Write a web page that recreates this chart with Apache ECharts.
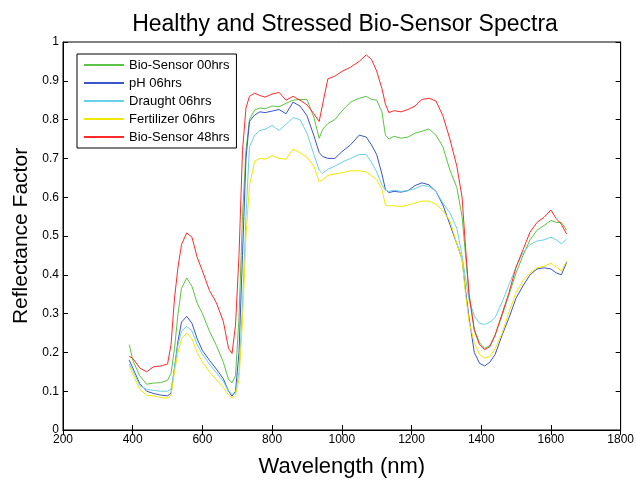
<!DOCTYPE html>
<html><head><meta charset="utf-8">
<script src="https://cdn.jsdelivr.net/npm/echarts@6/dist/echarts.min.js"></script>
<style>html,body{margin:0;padding:0;background:#fff}#c{width:637px;height:483px}</style>
</head><body><div id="c"></div>
<script>
const wavelengths = [390,400,420,440,460,480,500,510,520,530,540,555,570,585,600,620,640,660,675,685,695,705,715,725,735,750,765,780,800,820,840,860,880,900,920,935,945,960,980,1000,1025,1050,1070,1085,1100,1115,1125,1135,1150,1170,1190,1210,1230,1250,1270,1290,1310,1330,1345,1355,1365,1380,1395,1410,1425,1440,1460,1480,1500,1520,1540,1560,1580,1600,1615,1630,1645];

const bio00 = [0.22,0.18,0.14,0.118,0.121,0.122,0.128,0.146,0.21,0.3,0.365,0.392,0.37,0.327,0.3,0.255,0.218,0.175,0.13,0.122,0.14,0.29,0.55,0.72,0.8,0.825,0.83,0.828,0.835,0.833,0.842,0.85,0.852,0.852,0.805,0.752,0.775,0.79,0.8,0.822,0.845,0.855,0.86,0.852,0.85,0.82,0.76,0.75,0.757,0.752,0.755,0.765,0.77,0.776,0.76,0.73,0.67,0.625,0.55,0.45,0.35,0.26,0.225,0.21,0.218,0.245,0.295,0.35,0.405,0.45,0.49,0.515,0.527,0.54,0.535,0.535,0.515];

const ph06 = [0.18,0.16,0.12,0.1,0.094,0.09,0.088,0.095,0.16,0.23,0.278,0.293,0.275,0.235,0.205,0.18,0.157,0.132,0.1,0.087,0.1,0.2,0.45,0.7,0.795,0.812,0.82,0.818,0.822,0.826,0.815,0.845,0.835,0.81,0.758,0.715,0.705,0.7,0.7,0.717,0.735,0.76,0.755,0.735,0.71,0.66,0.62,0.612,0.615,0.613,0.617,0.63,0.637,0.632,0.615,0.58,0.53,0.48,0.44,0.36,0.29,0.2,0.172,0.165,0.175,0.195,0.245,0.29,0.34,0.372,0.4,0.415,0.418,0.415,0.405,0.4,0.432];

const draught06 = [0.17,0.155,0.115,0.105,0.102,0.1,0.1,0.105,0.16,0.22,0.255,0.267,0.255,0.22,0.195,0.17,0.148,0.125,0.1,0.092,0.095,0.15,0.32,0.55,0.73,0.76,0.772,0.775,0.785,0.772,0.788,0.805,0.8,0.765,0.71,0.67,0.662,0.672,0.68,0.69,0.7,0.71,0.71,0.69,0.665,0.632,0.618,0.615,0.618,0.615,0.617,0.622,0.63,0.628,0.615,0.585,0.56,0.52,0.45,0.39,0.335,0.295,0.275,0.272,0.278,0.29,0.33,0.375,0.42,0.458,0.478,0.487,0.49,0.497,0.49,0.48,0.492];

const fert06 = [0.165,0.145,0.105,0.09,0.088,0.084,0.082,0.09,0.15,0.2,0.235,0.25,0.235,0.2,0.175,0.15,0.13,0.11,0.09,0.082,0.09,0.13,0.28,0.5,0.63,0.693,0.7,0.698,0.707,0.7,0.698,0.724,0.715,0.703,0.68,0.64,0.645,0.656,0.66,0.663,0.668,0.668,0.665,0.655,0.645,0.62,0.58,0.578,0.578,0.576,0.58,0.585,0.59,0.59,0.582,0.565,0.54,0.48,0.44,0.35,0.28,0.225,0.195,0.185,0.19,0.21,0.25,0.305,0.355,0.385,0.405,0.418,0.422,0.43,0.42,0.41,0.436];

const bio48 = [0.19,0.185,0.16,0.15,0.163,0.165,0.17,0.22,0.34,0.42,0.478,0.508,0.497,0.445,0.41,0.36,0.328,0.28,0.21,0.197,0.27,0.45,0.72,0.83,0.86,0.868,0.862,0.858,0.866,0.87,0.85,0.86,0.85,0.838,0.815,0.795,0.84,0.905,0.912,0.924,0.935,0.95,0.967,0.955,0.925,0.88,0.84,0.818,0.823,0.82,0.826,0.835,0.852,0.855,0.848,0.81,0.75,0.68,0.6,0.47,0.35,0.257,0.22,0.207,0.215,0.245,0.3,0.355,0.42,0.465,0.51,0.535,0.548,0.567,0.545,0.53,0.505];

const seriesNames = ['Bio-Sensor 00hrs','pH 06hrs','Draught 06hrs','Fertilizer 06hrs','Bio-Sensor 48hrs'];
const seriesValues = [bio00, ph06, draught06, fert06, bio48];
const seriesColors = ['#5cc444','#3a55c8','#6ad0e6','#f0e800','#ff2b2b'];

const FONT = 'Liberation Sans, Arial, sans-serif';
const chart = echarts.init(document.getElementById('c'), null, {renderer:'canvas'});
const tickInside = {show:true, inside:true, length:5, lineStyle:{color:'#000'}};
chart.setOption({
  animation:false,
  backgroundColor:'#fff',
  title:{text:'Healthy and Stressed Bio-Sensor Spectra', left:340, top:8, textAlign:'center',
    textStyle:{fontFamily:FONT, fontSize:23, fontWeight:'normal', color:'#000'}},
  grid:{left:63, right:13, top:42, bottom:49, show:true, borderColor:'#000', borderWidth:1},
  legend:{orient:'vertical', left:77, top:54, padding:[4,7,4,7], itemWidth:40, itemHeight:2, itemGap:4,
    icon:'rect', borderColor:'#000', borderWidth:1, backgroundColor:'#fff',
    textStyle:{fontFamily:FONT, fontSize:13, color:'#000', lineHeight:14},
    data:seriesNames},
  xAxis:[{type:'value', min:200, max:1800, interval:200, name:'Wavelength (nm)', nameLocation:'middle', nameGap:26,
    nameTextStyle:{fontFamily:FONT, fontSize:22, color:'#000'},
    axisLine:{show:true, lineStyle:{color:'#000'}}, axisTick:tickInside, splitLine:{show:false},
    axisLabel:{fontFamily:FONT, fontSize:12, color:'#000', margin:4, formatter:(v)=>String(v)}},
    {type:'value', position:'top', min:200, max:1800, interval:200, axisLine:{show:true, lineStyle:{color:'#000'}},
    axisTick:tickInside, axisLabel:{show:false}, splitLine:{show:false}}],
  yAxis:[{type:'value', min:0, max:1, interval:0.1, name:'Reflectance Factor', nameLocation:'middle', nameGap:30, nameRotate:90,
    nameTextStyle:{fontFamily:FONT, fontSize:21, color:'#000'},
    axisLine:{show:true, lineStyle:{color:'#000'}}, axisTick:tickInside, splitLine:{show:false},
    axisLabel:{fontFamily:FONT, fontSize:12, color:'#000', margin:4}},
    {type:'value', position:'right', min:0, max:1, interval:0.1, axisLine:{show:true, lineStyle:{color:'#000'}},
    axisTick:tickInside, axisLabel:{show:false}, splitLine:{show:false}}],
  series: seriesNames.map((n,i)=>({
    name:n, type:'line', xAxisIndex:0, yAxisIndex:0, showSymbol:false, symbol:'none',
    lineStyle:{width:1, color:seriesColors[i]}, itemStyle:{color:seriesColors[i]},
    data: wavelengths.map((w,k)=>[w, seriesValues[i][k]])
  }))
});
</script></body></html>
